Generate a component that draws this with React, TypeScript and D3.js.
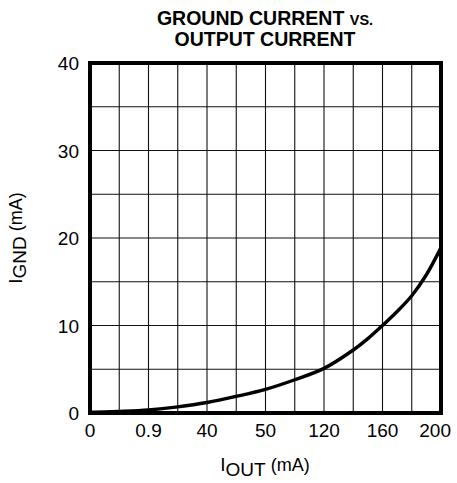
import React from "react";
import * as d3 from "d3";

// Grid positions along x (12 divisions) and printed tick labels at every second gridline
const xGridCount = 12;
const yMax = 40;
const yGridStep = 5;
const xTickPositions = [0, 2, 4, 6, 8, 10, 12];
const xTickLabels = ["0", "0.9", "40", "50", "120", "160", "200"];
const yTickValues = [0, 10, 20, 30, 40];

// Curve: x in grid units, ground current in mA
const curveX = [0, 0.5, 1, 2, 3, 4, 5, 6, 7, 8, 9, 9.5, 10, 10.5, 11, 11.5, 12];
const curveY = [0.1, 0.12, 0.18, 0.35, 0.7, 1.2, 1.9, 2.7, 3.8, 5.1, 7.2, 8.5, 10.0, 11.6, 13.4, 15.8, 18.9];

const W = 457;
const H = 483;
const M = { left: 90, right: 441, top: 63, bottom: 413 };
const FONT = "'Liberation Sans', Arial, Helvetica, sans-serif";

export default function App() {
  const x = d3.scaleLinear().domain([0, xGridCount]).range([M.left, M.right]);
  const y = d3.scaleLinear().domain([0, yMax]).range([M.bottom, M.top]);

  const xGrid = d3.range(1, xGridCount);
  const yGrid = d3.range(yGridStep, yMax, yGridStep);

  const pts: [number, number][] = curveX.map((v, i) => [v, curveY[i]]);
  const line = d3
    .line<[number, number]>()
    .x((d) => x(d[0]))
    .y((d) => y(d[1]))
    .curve(d3.curveCatmullRom.alpha(0.5));

  return (
    <svg
      width={W}
      height={H}
      style={{ position: "absolute", left: 0, top: 0, background: "#fff" }}
      fontFamily={FONT}
    >
      <rect x={0} y={0} width={W} height={H} fill="#fff" />
      {/* Title */}
      <text x={265} y={25} textAnchor="middle" fontWeight="bold" fontSize={19.5} fill="#000">
        GROUND CURRENT <tspan fontSize={14.5}>VS.</tspan>
      </text>
      <text x={265} y={46} textAnchor="middle" fontWeight="bold" fontSize={19.5} fill="#000">
        OUTPUT CURRENT
      </text>

      {/* Grid */}
      <g stroke="#111" strokeWidth={1.1}>
        {xGrid.map((g) => (
          <line key={"vx" + g} x1={x(g)} x2={x(g)} y1={M.top} y2={M.bottom} />
        ))}
        {yGrid.map((g) => (
          <line key={"hy" + g} x1={M.left} x2={M.right} y1={y(g)} y2={y(g)} />
        ))}
      </g>

      {/* Curve */}
      <path d={line(pts) || ""} fill="none" stroke="#000" strokeWidth={3.4} />

      {/* Frame */}
      <rect
        x={M.left}
        y={M.top}
        width={M.right - M.left}
        height={M.bottom - M.top}
        fill="none"
        stroke="#000"
        strokeWidth={4}
      />

      {/* Y ticks */}
      {yTickValues.map((v) => (
        <text key={"yt" + v} x={79} y={y(v) + 7} textAnchor="end" fontSize={19} fill="#000">
          {v}
        </text>
      ))}

      {/* X ticks */}
      {xTickPositions.map((p, i) => {
        const last = i === xTickPositions.length - 1;
        return (
          <text
            key={"xt" + p}
            x={last ? x(p) + 10 : x(p)}
            y={437}
            textAnchor={last ? "end" : "middle"}
            fontSize={19}
            fill="#000"
          >
            {xTickLabels[i]}
          </text>
        );
      })}

      {/* X label */}
      <text x={265} y={471} textAnchor="middle" fontSize={19} fill="#000">
        I<tspan dy={5}>OUT</tspan>
        <tspan dy={-5} fontSize={18}> (mA)</tspan>
      </text>

      {/* Y label */}
      <text
        transform={`translate(22,238) rotate(-90)`}
        textAnchor="middle"
        fontSize={19}
        fill="#000"
      >
        I<tspan dy={4}>GND</tspan>
        <tspan dy={-4} fontSize={18}> (mA)</tspan>
      </text>
    </svg>
  );
}
